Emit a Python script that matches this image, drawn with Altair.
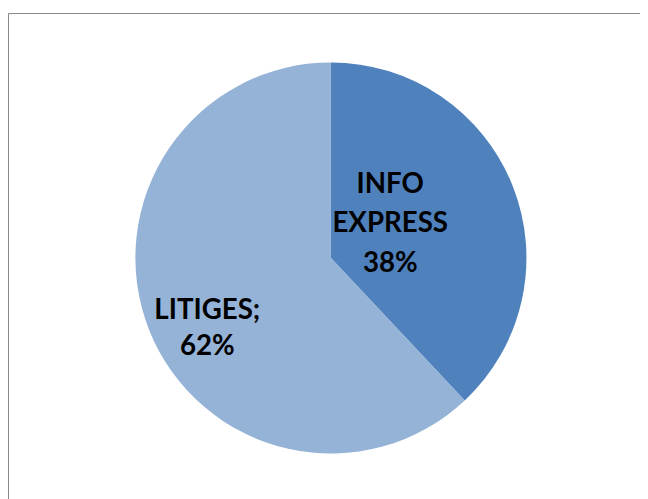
import altair as alt
import pandas as pd

categories = ["INFO EXPRESS", "LITIGES"]
labels = ["INFO EXPRESS", "LITIGES;"]
values = [38, 62]
colors = ["#4F81BD", "#95B3D7"]

df = pd.DataFrame({"cat": categories, "label": labels, "value": values, "order": [0, 1]})
df["text"] = df["label"] + " " + df["value"].astype(str) + "%"

CX, CY, R = 327, 250, 198

base = alt.Chart(df).encode(
    theta=alt.Theta("value:Q", stack=True),
    order=alt.Order("order:Q"),
)

pie = base.mark_arc(outerRadius=R, x=CX, y=CY).encode(
    color=alt.Color("cat:N", scale=alt.Scale(domain=categories, range=colors), legend=None)
)

txt_info = base.mark_text(
    x=CX, y=CY, radius=70, dx=-5, dy=-48, font="Lato", fontSize=28, fontWeight="bold",
    lineBreak=" ", lineHeight=40, color="black", align="center", baseline="middle"
).encode(text="text:N", opacity=alt.condition(alt.datum.cat == "INFO EXPRESS", alt.value(1), alt.value(0)))

txt_lit = base.mark_text(
    x=CX, y=CY, radius=140, dx=5, dy=2, font="Lato", fontSize=28, fontWeight="bold",
    lineBreak=" ", lineHeight=37, color="black", align="center", baseline="middle"
).encode(text="text:N", opacity=alt.condition(alt.datum.cat == "LITIGES", alt.value(1), alt.value(0)))

border = alt.Chart(pd.DataFrame({"a": [0]})).mark_rect(
    fill=None, stroke="#888888", strokeWidth=1
).encode(x=alt.value(0.5), x2=alt.value(700), y=alt.value(2.5), y2=alt.value(700))

chart = alt.layer(border, pie, txt_info, txt_lit).properties(
    width=640, height=491, padding=0, autosize=alt.AutoSizeParams(type="none")
).configure_view(stroke=None)

chart.save("out.html", embed_options={"renderer": "svg", "actions": False})
